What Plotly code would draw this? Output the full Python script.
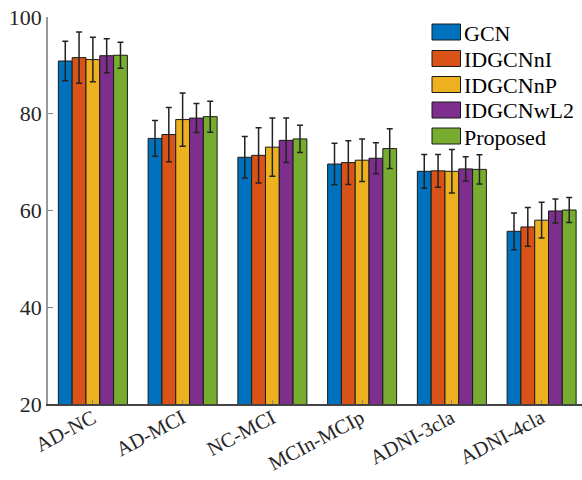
import plotly.graph_objects as go

categories = ["AD-NC", "AD-MCI", "NC-MCI", "MCIn-MCIp", "ADNI-3cla", "ADNI-4cla"]
series_names = ["GCN", "IDGCNnI", "IDGCNnP", "IDGCNwL2", "Proposed"]

gcn = [90.9, 74.9, 71.0, 69.6, 68.1, 55.7]
gcn_err = [4.1, 3.7, 4.3, 4.3, 3.5, 3.8]
idgcnni = [91.6, 75.7, 71.4, 69.9, 68.2, 56.6]
idgcnni_err = [5.3, 5.6, 5.7, 4.5, 3.4, 4.0]
idgcnnp = [91.2, 78.8, 73.1, 70.4, 68.1, 58.0]
idgcnnp_err = [4.6, 5.5, 6.0, 4.4, 4.5, 3.7]
idgcnwl2 = [92.0, 79.1, 74.5, 70.8, 68.6, 59.9]
idgcnwl2_err = [3.5, 3.0, 4.6, 3.2, 2.5, 2.5]
proposed = [92.1, 79.4, 74.8, 72.8, 68.5, 60.1]
proposed_err = [2.7, 3.2, 2.8, 4.1, 3.0, 2.6]

y_ticks = [20, 40, 60, 80, 100]

values = [gcn, idgcnni, idgcnnp, idgcnwl2, proposed]
errors = [gcn_err, idgcnni_err, idgcnnp_err, idgcnwl2_err, proposed_err]
colors = ["#0072BD", "#D95319", "#EDB120", "#7E2F8E", "#77AC30"]

W, H = 582, 480
ML, MR, MT, MB = 48, 0, 17, 76
FONT = "Liberation Serif"

fig = go.Figure()
for name, vals, errs, col in zip(series_names, values, errors, colors):
    fig.add_trace(go.Bar(
        name=name, x=list(range(len(categories))), y=vals,
        marker=dict(color=col, line=dict(color="#1a1a1a", width=1)),
        error_y=dict(type="data", array=errs, visible=True,
                     color="#222222", thickness=1.5, width=3),
        showlegend=False,
    ))

pw = W - ML - MR
ph = H - MT - MB
def px_x(x):
    return (x - ML) / pw
def px_y(y):
    return (H - MB - y) / ph

# custom legend (MATLAB-style wide swatches)
centers = [32, 58.5, 84.5, 110, 136]
for name, col, cy in zip(series_names, colors, centers):
    fig.add_shape(type="rect", xref="paper", yref="paper",
                  x0=px_x(432), x1=px_x(460.5), y0=px_y(cy + 8), y1=px_y(cy - 8),
                  fillcolor=col, line=dict(color="#1a1a1a", width=1))
    fig.add_annotation(xref="paper", yref="paper", x=px_x(462), y=px_y(cy + 1),
                       xanchor="left", yanchor="middle", text=name, showarrow=False,
                       font=dict(family=FONT, size=22, color="#000000"))

# rotated category labels (placed on the x axis categories)
for i, cat in enumerate(categories):
    fig.add_annotation(xref="x", yref="paper", x=i, y=px_y(403),
                       xanchor="right", yanchor="top", xshift=9,
                       text=cat, textangle=-28, showarrow=False,
                       font=dict(family=FONT, size=20.5, color="#262626"))

fig.update_layout(
    width=W, height=H,
    margin=dict(l=ML, r=MR, t=MT, b=MB, autoexpand=False),
    paper_bgcolor="white", plot_bgcolor="white",
    barmode="group", bargap=0.231, bargroupgap=0,
    font=dict(family=FONT, size=22, color="#262626"),
)
fig.update_xaxes(
    range=[-0.5, 5.45], tickmode="array",
    tickvals=list(range(len(categories))), showticklabels=False,
    ticks="inside", ticklen=4, tickcolor="#888888",
    showline=True, linecolor="#444444", linewidth=1.5,
    showgrid=False, zeroline=False, automargin=False,
)
fig.update_yaxes(
    range=[20, 100], tickmode="array", tickvals=y_ticks,
    ticks="inside", ticklen=5, tickcolor="#888888",
    showline=True, linecolor="#999999", linewidth=1.5,
    showgrid=False, zeroline=False, automargin=False,
    tickfont=dict(family=FONT, size=22, color="#262626"),
)

fig.write_html("out.html")
